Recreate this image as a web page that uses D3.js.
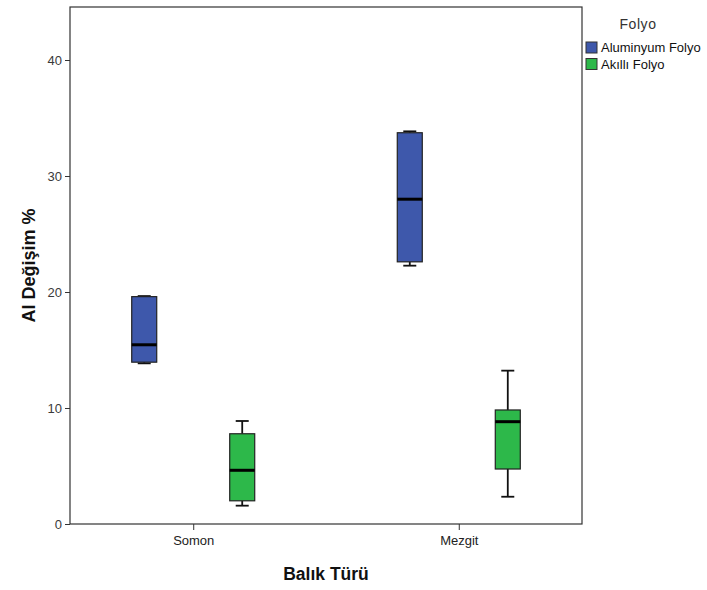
<!DOCTYPE html>
<html><head><meta charset="utf-8">
<script src="https://cdn.jsdelivr.net/npm/d3@7"></script>
<style>body{margin:0;background:#fff}svg{display:block;font-family:"Liberation Sans",Arial,sans-serif}</style>
</head><body><div id="chart"></div>
<script>
const categories = ["Somon", "Mezgit"];
const groups = ["Aluminyum Folyo", "Akıllı Folyo"];
const colors = ["#3e58ab", "#2db84a"];
// [min, q1, median, q3, max]
const somonAluminyum = [13.85, 13.95, 15.45, 19.6, 19.65];
const somonAkilli = [1.58, 2.0, 4.63, 7.78, 8.88];
const mezgitAluminyum = [22.27, 22.6, 28.0, 33.73, 33.85];
const mezgitAkilli = [2.35, 4.74, 8.82, 9.83, 13.22];
const yTicks = [0, 10, 20, 30, 40];
const legendTitle = "Folyo";
const xTitle = "Balık Türü";
const yTitle = "Al Değişim %";

const boxes = [
  {cat: "Somon", grp: groups[0], v: somonAluminyum},
  {cat: "Somon", grp: groups[1], v: somonAkilli},
  {cat: "Mezgit", grp: groups[0], v: mezgitAluminyum},
  {cat: "Mezgit", grp: groups[1], v: mezgitAkilli}
];

const W = 707, H = 590;
const L = 70, R = 582, T = 7, B = 524;
const svg = d3.select("#chart").append("svg").attr("width", W).attr("height", H);

const y = d3.scaleLinear().domain([0, 40]).range([B, 60]);
const x = d3.scalePoint().domain(categories).range([L, R]).padding(0.464);
const xi = d3.scalePoint().domain(groups).range([-49, 49]);
const color = d3.scaleOrdinal().domain(groups).range(colors);
const bw = 25, capW = 13;

// frame
svg.append("rect").attr("x", L).attr("y", T).attr("width", R - L).attr("height", B - T)
  .attr("fill", "none").attr("stroke", "#333").attr("stroke-width", 1.2);

// y axis
const ya = svg.append("g").attr("transform", `translate(${L},0)`)
  .call(d3.axisLeft(y).tickValues(yTicks).tickSize(5).tickPadding(3));
ya.select(".domain").remove();
ya.selectAll("line").attr("stroke", "#333");
ya.selectAll("text").attr("font-size", 13).attr("fill", "#3a3a3a").attr("font-family", "Liberation Sans, Arial");

// x axis
const xa = svg.append("g").attr("transform", `translate(0,${B})`)
  .call(d3.axisBottom(x).tickSize(6).tickPadding(6));
xa.select(".domain").remove();
xa.selectAll("line").attr("stroke", "#333");
xa.selectAll("text").attr("font-size", 13).attr("fill", "#222").attr("font-family", "Liberation Sans, Arial");

// boxes
const g = svg.append("g").selectAll("g").data(boxes).join("g")
  .attr("transform", d => `translate(${x(d.cat) + xi(d.grp)},0)`);
g.append("line").attr("y1", d => y(d.v[4])).attr("y2", d => y(d.v[3]))
  .attr("stroke", "#111").attr("stroke-width", 1.8);
g.append("line").attr("y1", d => y(d.v[1])).attr("y2", d => y(d.v[0]))
  .attr("stroke", "#111").attr("stroke-width", 1.8);
g.append("line").attr("x1", -capW / 2).attr("x2", capW / 2)
  .attr("y1", d => y(d.v[4])).attr("y2", d => y(d.v[4])).attr("stroke", "#111").attr("stroke-width", 1.8);
g.append("line").attr("x1", -capW / 2).attr("x2", capW / 2)
  .attr("y1", d => y(d.v[0])).attr("y2", d => y(d.v[0])).attr("stroke", "#111").attr("stroke-width", 1.8);
g.append("rect").attr("x", -bw / 2).attr("width", bw)
  .attr("y", d => y(d.v[3])).attr("height", d => y(d.v[1]) - y(d.v[3]))
  .attr("fill", d => color(d.grp)).attr("stroke", "#222").attr("stroke-width", 1.2);
g.append("line").attr("x1", -bw / 2).attr("x2", bw / 2)
  .attr("y1", d => y(d.v[2])).attr("y2", d => y(d.v[2])).attr("stroke", "#000").attr("stroke-width", 3);

// titles
svg.append("text").attr("x", (L + R) / 2).attr("y", 580).attr("text-anchor", "middle")
  .attr("font-size", 17.5).attr("font-weight", "bold").attr("fill", "#111").text(xTitle);
svg.append("text").attr("transform", `translate(35,${(T + B) / 2}) rotate(-90)`).attr("text-anchor", "middle")
  .attr("font-size", 18).attr("font-weight", "bold").attr("fill", "#111").text(yTitle);

// legend
svg.append("text").attr("x", 638).attr("y", 29).attr("text-anchor", "middle")
  .attr("font-size", 14).attr("fill", "#333").attr("letter-spacing", 0.6).text(legendTitle);
const lg = svg.append("g").selectAll("g").data(groups).join("g")
  .attr("transform", (d, i) => `translate(586,${42 + i * 16.5})`);
lg.append("rect").attr("width", 11).attr("height", 11).attr("fill", d => color(d))
  .attr("stroke", "#333").attr("stroke-width", 1);
lg.append("text").attr("x", 15).attr("y", 10).attr("font-size", 13).attr("fill", "#111").text(d => d);
</script></body></html>
